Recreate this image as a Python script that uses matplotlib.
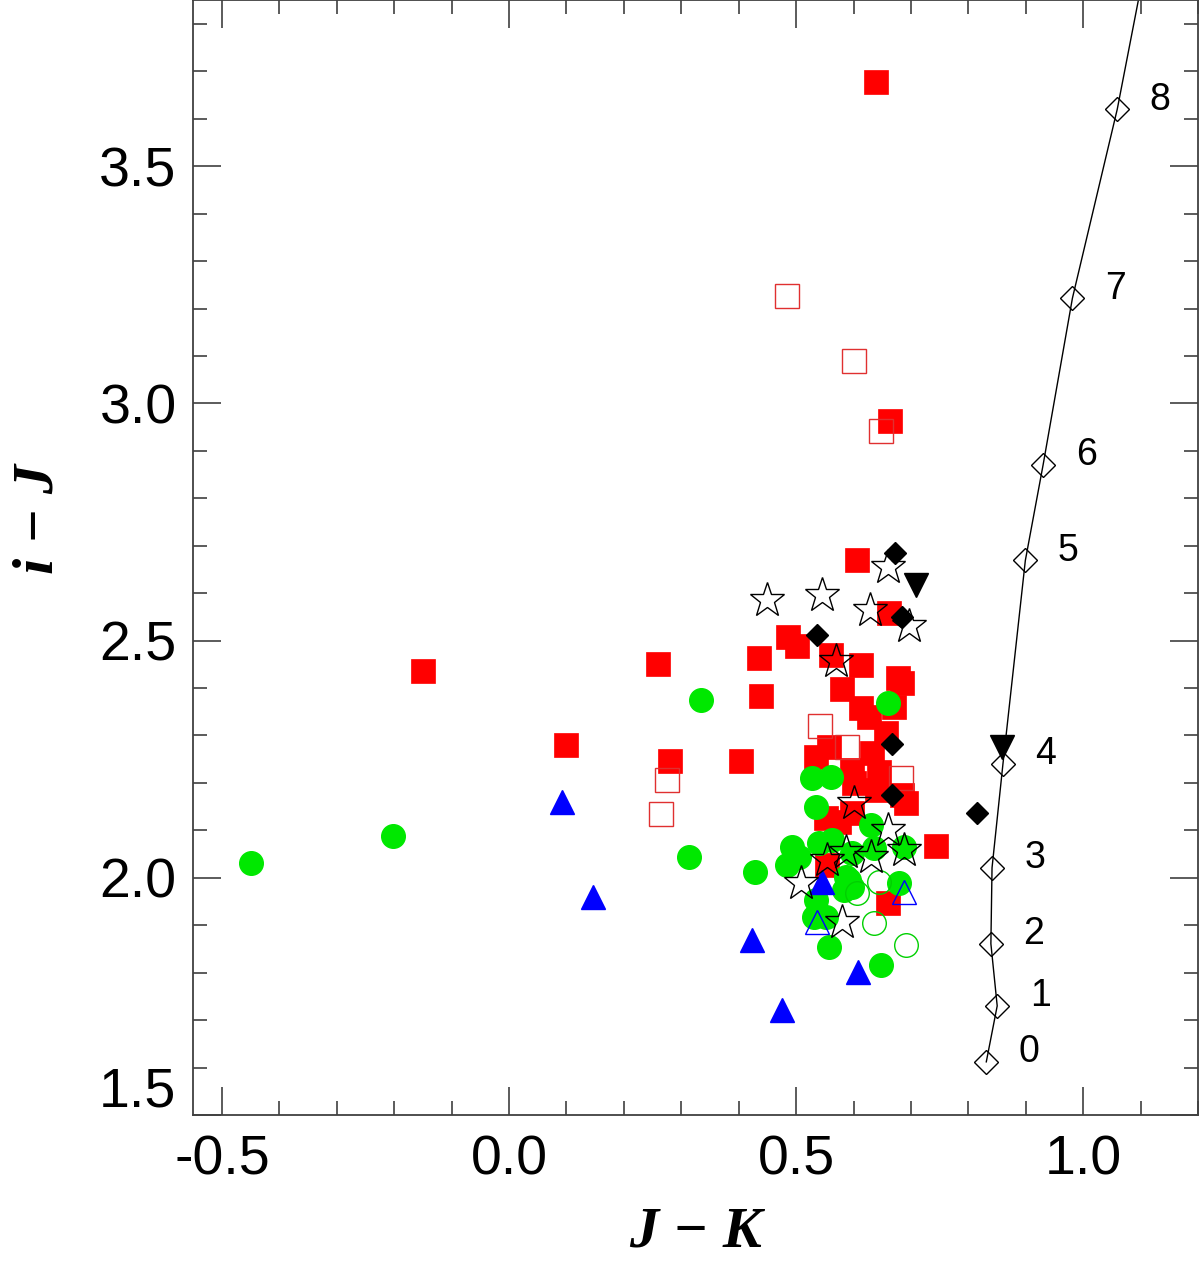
import numpy as np
import matplotlib
matplotlib.use('Agg')
import matplotlib.pyplot as plt
from matplotlib.ticker import MultipleLocator
from matplotlib.transforms import ScaledTranslation

# red filled squares
red_x = [0.639, 0.664, -0.150, 0.099, 0.260, 0.280, 0.404, 0.436, 0.439, 0.486,
         0.502, 0.561, 0.606, 0.613, 0.580, 0.678, 0.685, 0.662, 0.613, 0.671,
         0.627, 0.657, 0.557, 0.535, 0.598, 0.632, 0.645, 0.685, 0.641, 0.601,
         0.692, 0.598, 0.552, 0.575, 0.744, 0.554, 0.659]
red_y = [3.677, 2.962, 2.435, 2.281, 2.451, 2.247, 2.247, 2.464, 2.384, 2.508,
         2.489, 2.470, 2.669, 2.449, 2.399, 2.422, 2.411, 2.559, 2.359, 2.361,
         2.340, 2.306, 2.276, 2.255, 2.228, 2.264, 2.222, 2.175, 2.186, 2.200,
         2.158, 2.137, 2.127, 2.118, 2.068, 2.027, 1.947]

# red open squares
redo_x = [0.484, 0.601, 0.648, 0.275, 0.264, 0.542, 0.589, 0.683]
redo_y = [3.226, 3.089, 2.941, 2.207, 2.135, 2.319, 2.276, 2.211]

# green filled circles
grn_x = [-0.449, -0.202, 0.334, 0.314, 0.429, 0.484, 0.493, 0.505, 0.528, 0.561,
         0.535, 0.659, 0.631, 0.688, 0.540, 0.563, 0.598, 0.636, 0.592, 0.584,
         0.679, 0.535, 0.531, 0.552, 0.557, 0.648, 0.587, 0.598]
grn_y = [2.032, 2.089, 2.375, 2.044, 2.013, 2.027, 2.065, 2.044, 2.211, 2.213,
         2.150, 2.369, 2.112, 2.065, 2.074, 2.080, 2.053, 2.063, 1.996, 1.975,
         1.989, 1.954, 1.918, 1.918, 1.854, 1.816, 2.002, 1.981]

# green open circles
grno_x = [0.645, 0.606, 0.636, 0.692]
grno_y = [1.992, 1.968, 1.905, 1.859]

# blue triangles
blu_x = [0.092, 0.146, 0.423, 0.476, 0.608, 0.545]
blu_y = [2.160, 1.960, 1.869, 1.722, 1.802, 1.992]
bluo_x = [0.537, 0.688]
bluo_y = [1.907, 1.970]

# stars
star_x = [0.449, 0.545, 0.629, 0.659, 0.697, 0.570, 0.601, 0.659, 0.688, 0.587,
          0.631, 0.554, 0.509, 0.580]
star_y = [2.586, 2.597, 2.565, 2.656, 2.530, 2.456, 2.158, 2.101, 2.059, 2.055,
          2.044, 2.038, 1.989, 1.907]

# black diamonds and down triangles
dia_x = [0.672, 0.537, 0.685, 0.666, 0.666, 0.814]
dia_y = [2.684, 2.511, 2.549, 2.283, 2.175, 2.137]
dtri_x = [0.709, 0.859]
dtri_y = [2.618, 2.276]

# model sequence
mod_x = [0.831, 0.850, 0.839, 0.841, 0.860, 0.899, 0.930, 0.981, 1.059, 1.123]
mod_y = [1.612, 1.730, 1.861, 2.021, 2.240, 2.669, 2.871, 3.222, 3.620, 4.02]
mod_lab = ['0', '1', '2', '3', '4', '5', '6', '7', '8']

fig = plt.figure(figsize=(12, 12.61), dpi=100)
ax = fig.add_axes([0.161, 0.1158, 0.8375, 0.884])

ms = 17
ax.plot(red_x, red_y, 's', color='red', ms=ms, mec='red', mew=0.5, ls='none')
ax.plot(redo_x, redo_y, 's', mfc='none', mec='#e03030', ms=ms, mew=1.0, ls='none')
ax.plot(grn_x, grn_y, 'o', color='#00e800', ms=ms, mec='#00e800', ls='none')
ax.plot(grno_x, grno_y, 'o', mfc='none', mec='#00d000', ms=ms, mew=1.0, ls='none')
ax.plot(blu_x, blu_y, '^', color='blue', ms=17, ls='none')
ax.plot(bluo_x, bluo_y, '^', mfc='none', mec='blue', ms=17, mew=1.0, ls='none')
ax.plot(star_x, star_y, '*', mfc='none', mec='black', ms=26, mew=1.0, ls='none')
ax.plot(dia_x, dia_y, 'D', color='black', ms=11, ls='none')
ax.plot(dtri_x, dtri_y, 'v', color='black', ms=17, ls='none')

ax.plot(mod_x, mod_y, '-', color='black', lw=1.0)
ax.plot(mod_x, mod_y, 'D', mfc='none', mec='black', ms=12, mew=1.0, ls='none')
for x, y, t in zip(mod_x, mod_y, mod_lab):
    ax.text(x + 0.075, y + 0.02, t, fontsize=27, family='Liberation Sans',
            ha='center', va='center')

ax.set_xlim(-0.55, 1.2)
ax.set_ylim(1.5, 3.85)

ax.xaxis.set_major_locator(MultipleLocator(0.5))
ax.xaxis.set_minor_locator(MultipleLocator(0.1))
ax.yaxis.set_major_locator(MultipleLocator(0.5))
ax.yaxis.set_minor_locator(MultipleLocator(0.1))
ax.xaxis.set_major_formatter(plt.FormatStrFormatter('%.1f'))
ax.yaxis.set_major_formatter(plt.FormatStrFormatter('%.1f'))
ax.tick_params(which='both', direction='in', top=True, right=True,
               color='#404040', width=1.2)
ax.tick_params(which='major', length=20)
ax.tick_params(which='minor', length=10)
ax.tick_params(axis='x', which='major', pad=14)
ax.tick_params(axis='y', which='major', pad=12)
for lab in ax.get_xticklabels() + ax.get_yticklabels():
    lab.set_fontsize(40)
    lab.set_family('Liberation Sans')
for s in ax.spines.values():
    s.set_color('#404040')
    s.set_linewidth(1.3)

ax.set_xlabel('J \u2212 K', fontsize=42, family='Liberation Serif',
              style='italic', weight='bold', va='center')
ax.set_ylabel('i \u2212 J', fontsize=42, family='Liberation Serif',
              style='italic', weight='bold', va='center')
ax.xaxis.set_label_coords(0.5, -0.105)
ax.yaxis.set_label_coords(-0.154, 0.535)

# lift the lowest y label clear of the x labels
fig.canvas.draw()
for tick in ax.yaxis.get_major_ticks():
    if tick.label1.get_text() == '1.5':
        tick.label1.set_transform(tick.label1.get_transform() +
                                  ScaledTranslation(0, 0.28, fig.dpi_scale_trans))

fig.savefig('out.png', dpi=100)
